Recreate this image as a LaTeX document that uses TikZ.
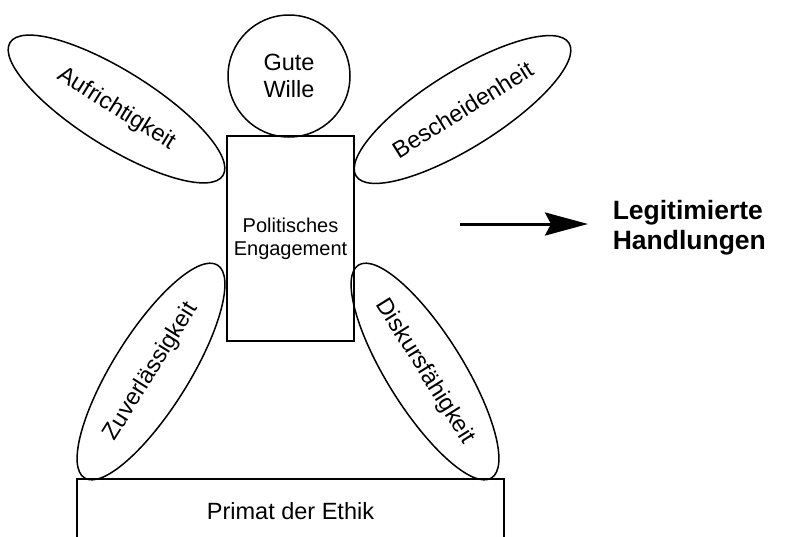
\documentclass[tikz,border=0pt]{standalone}
\usepackage{fontspec}
\setmainfont{Liberation Sans}
\usetikzlibrary{shapes.geometric, arrows.meta}

\begin{document}
\begin{tikzpicture}[x=1pt, y=-1pt, line width=1.5pt,
    tugend/.style={draw, ellipse, inner sep=0pt, minimum width=251pt, minimum height=76pt,
        font=\fontsize{23.5}{27}\selectfont},
    kasten/.style={draw, rectangle, inner sep=0pt, align=center}]
    % Frame
    \useasboundingbox (0,0) rectangle (790,536);
    \clip (0,0) rectangle (790,536);

    % Head and body
    \node[draw, circle, inner sep=0pt, minimum size=122pt, align=center,
        font=\fontsize{23.5}{27}\selectfont] (wille) at (289,76) {Gute\\Wille};
    \node[kasten, minimum width=127pt, minimum height=205pt,
        font=\fontsize{20}{23}\selectfont] (engagement) at (290.5,238.5) {Politisches\\Engagement};

    % Arms
    \node[tugend, rotate=-32] (aufrichtigkeit) at (116.5,109) {Aufrichtigkeit};
    \node[tugend, rotate=32] (bescheidenheit) at (462.5,109.5) {Bescheidenheit};

    % Legs
    \node[tugend, rotate=58] (zuverlaessigkeit) at (151,371.5) {Zuverlässigkeit};
    \node[tugend, rotate=-58] (diskurs) at (425,371.5) {Diskursfähigkeit};

    % Base
    \node[kasten, minimum width=427pt, minimum height=64pt,
        font=\fontsize{23.5}{27}\selectfont] (ethik) at (290.5,511) {Primat der Ethik};

    % Result
    \node[anchor=west, inner sep=0pt, align=left,
        font=\fontsize{26.5}{30}\selectfont\bfseries] (handlungen) at (612,228) {Legitimierte\\Handlungen};
    \coordinate (start) at (460,224);
    \draw[line width=3pt, -{Stealth[length=43pt, width=23pt, inset=6pt]}, shorten >=24pt]
        (start) -- (start -| handlungen.west);
\end{tikzpicture}
\end{document}
